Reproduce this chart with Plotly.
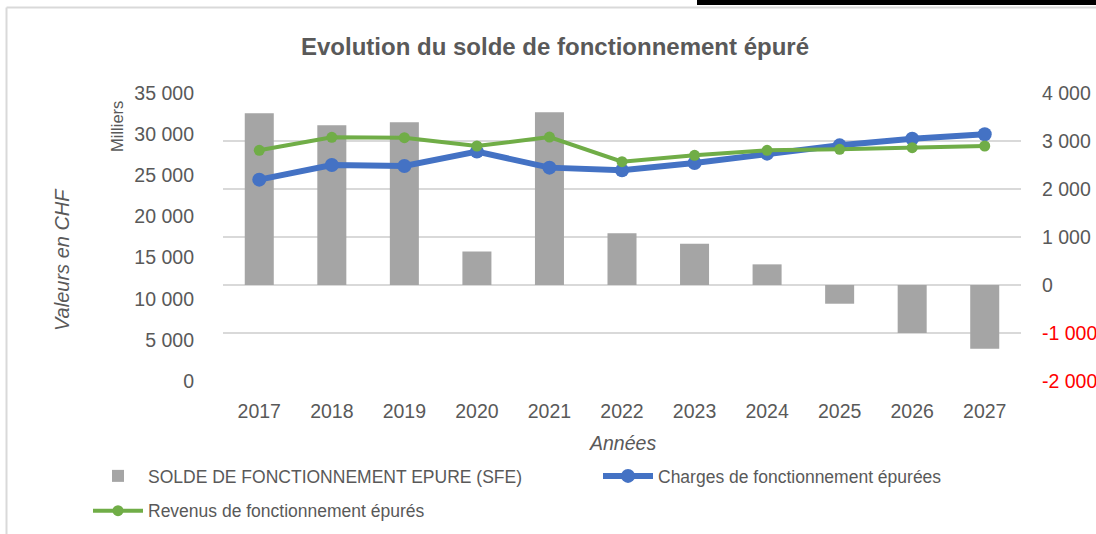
import plotly.graph_objects as go

# ---------------- data ----------------
years = ["2017", "2018", "2019", "2020", "2021", "2022", "2023", "2024", "2025", "2026", "2027"]
# Solde de fonctionnement épuré (milliers CHF) - right axis
sfe = [3580, 3330, 3390, 700, 3600, 1080, 860, 430, -390, -1000, -1330]
# Charges de fonctionnement épurées (CHF, milliers) - left axis
charges = [24470, 26250, 26130, 27880, 25930, 25600, 26490, 27630, 28640, 29450, 29980]
# Revenus de fonctionnement épurés
revenus = [28040, 29610, 29570, 28560, 29650, 26660, 27430, 28040, 28160, 28360, 28560]

left_ticks = [0, 5000, 10000, 15000, 20000, 25000, 30000, 35000]
right_ticks = [-2000, -1000, 0, 1000, 2000, 3000, 4000]


def fmt(v):
    return f"{v:,}".replace(",", " ")


def fmt_right(v):
    s = fmt(v)
    return f"<span style='color:#ff0000'>{s}</span>" if v < 0 else s


FONT = "Liberation Sans, Arial, sans-serif"
GREY_TXT = "#595959"
TICK_SIZE = 19.5

W, H = 1096, 534
ML, MR, MT, MB = 223, 75, 93, 153
PW, PH = W - ML - MR, H - MT - MB


def px2x(px):
    return (px - ML) / PW


def py2y(py):
    return (H - MB - py) / PH


fig = go.Figure()

fig.add_trace(go.Bar(
    x=years, y=sfe, name="SOLDE DE FONCTIONNEMENT EPURE (SFE)",
    marker=dict(color="#a5a5a5", line=dict(width=0)),
    width=0.4, yaxis="y", legend="legend", legendgroup="g1",
))
fig.add_trace(go.Scatter(
    x=years, y=charges, name="Charges de fonctionnement épurées",
    mode="lines+markers", line=dict(color="#4472c4", width=6),
    marker=dict(color="#4472c4", size=14), yaxis="y2", legend="legend2",
    legendgroup="g2",
))
fig.add_trace(go.Scatter(
    x=years, y=revenus, name="Revenus de fonctionnement épurés",
    mode="lines+markers", line=dict(color="#70ad47", width=4),
    marker=dict(color="#70ad47", size=11), yaxis="y2", legend="legend",
    legendgroup="g3",
))

legend_common = dict(
    font=dict(family=FONT, size=17.5, color=GREY_TXT),
    bgcolor="rgba(0,0,0,0)", orientation="v",
    xanchor="left", yanchor="top", itemwidth=50,
    traceorder="grouped", tracegroupgap=9,
)

fig.update_layout(
    width=W, height=H,
    margin=dict(l=ML, r=MR, t=MT, b=MB, autoexpand=False),
    paper_bgcolor="white", plot_bgcolor="white",
    font=dict(family=FONT, color=GREY_TXT),
    title=dict(
        text="<b>Evolution du solde de fonctionnement épuré</b>",
        x=555 / W, xanchor="center", y=1 - 47 / H, yanchor="middle",
        font=dict(family=FONT, size=24, color=GREY_TXT),
    ),
    bargap=0.6,
    xaxis=dict(
        type="category", range=[-0.5, len(years) - 0.5], autorange=False,
        showgrid=False, showline=False, zeroline=False,
        tickfont=dict(family=FONT, size=TICK_SIZE, color=GREY_TXT),
        ticks="", ticklabelstandoff=16,
    ),
    yaxis=dict(
        side="right", range=[-2000, 4000],
        tickvals=right_ticks, ticktext=[fmt_right(v) for v in right_ticks],
        showgrid=True, gridcolor="#d9d9d9", gridwidth=1.5,
        zeroline=False, showline=False, ticks="",
        tickfont=dict(family=FONT, size=TICK_SIZE, color=GREY_TXT),
        ticklabelstandoff=20,
    ),
    yaxis2=dict(
        side="left", overlaying="y", range=[0, 35000],
        tickvals=left_ticks, ticktext=[fmt(v) for v in left_ticks],
        showgrid=False, zeroline=False, showline=False, ticks="",
        tickfont=dict(family=FONT, size=TICK_SIZE, color=GREY_TXT),
        ticklabelstandoff=28,
    ),
    legend=dict(x=px2x(88), y=py2y(458), **legend_common),
    legend2=dict(x=px2x(598), y=py2y(458), **legend_common),
    showlegend=True,
)

fig.add_annotation(
    text="<i>Valeurs en CHF</i>", textangle=-90, xref="paper", yref="paper",
    x=px2x(62), y=py2y(260), xanchor="center", yanchor="middle", showarrow=False,
    font=dict(family=FONT, size=20, color=GREY_TXT),
)
fig.add_annotation(
    text="Milliers", textangle=-90, xref="paper", yref="paper",
    x=px2x(117), y=py2y(127), xanchor="center", yanchor="middle", showarrow=False,
    font=dict(family=FONT, size=16.5, color=GREY_TXT),
)
fig.add_annotation(
    text="<i>Années</i>", xref="paper", yref="paper",
    x=px2x(622), y=py2y(443), xanchor="center", yanchor="middle", showarrow=False,
    font=dict(family=FONT, size=19.5, color=GREY_TXT),
)

# chart-area border and top strip
fig.add_shape(type="line", xref="paper", yref="paper",
              x0=px2x(6.5), x1=px2x(W + 5), y0=py2y(7.5), y1=py2y(7.5),
              line=dict(color="#d9d9d9", width=2))
fig.add_shape(type="line", xref="paper", yref="paper",
              x0=px2x(6.5), x1=px2x(6.5), y0=py2y(7.5), y1=py2y(H + 5),
              line=dict(color="#d9d9d9", width=2))
fig.add_shape(type="rect", xref="paper", yref="paper",
              x0=px2x(697), x1=px2x(W + 5), y0=py2y(-2), y1=py2y(5),
              line=dict(width=0), fillcolor="black")

fig.write_html("out.html")
